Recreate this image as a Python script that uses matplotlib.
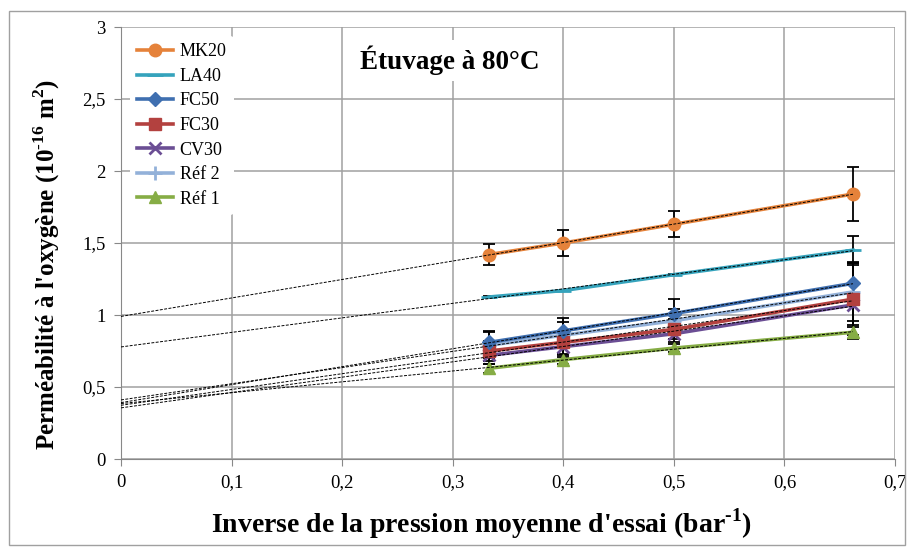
import numpy as np
import matplotlib.pyplot as plt
from matplotlib.patches import Rectangle

plt.rcParams['font.family'] = ['Liberation Serif', 'DejaVu Serif']
plt.rcParams['mathtext.fontset'] = 'custom'
plt.rcParams['mathtext.rm'] = 'Liberation Serif'
plt.rcParams['mathtext.bf'] = 'Liberation Serif:bold'

# inverse mean pressure (bar^-1)
x_vals = [0.333, 0.4, 0.5, 0.662]

series_names = ['MK20', 'LA40', 'FC50', 'FC30', 'CV30', 'Réf 2', 'Réf 1']
mk20 = [1.42, 1.50, 1.63, 1.84]
la40 = [1.125, 1.17, 1.28, 1.45]
fc50 = [0.81, 0.89, 1.01, 1.22]
fc30 = [0.75, 0.81, 0.90, 1.11]
cv30 = [0.72, 0.78, 0.87, 1.07]
ref2 = [0.79, 0.86, 0.96, 1.16]
ref1 = [0.63, 0.69, 0.77, 0.88]

mk20_err = [0.07, 0.09, 0.09, 0.185]
la40_err = [0.005, 0.005, 0.005, 0.10]
fc50_err = [0.08, 0.09, 0.10, 0.15]
fc30_err = [0.07, 0.08, 0.07, 0.25]
cv30_err = [0.06, 0.07, 0.06, 0.15]
ref2_err = [0.09, 0.09, 0.08, 0.20]
ref1_err = [0.03, 0.03, 0.03, 0.05]

values = [mk20, la40, fc50, fc30, cv30, ref2, ref1]
errors = [mk20_err, la40_err, fc50_err, fc30_err, cv30_err, ref2_err, ref1_err]
colors = ['#E5823A', '#35A3BC', '#3F6FB0', '#B3413F', '#6B4E94', '#93B1D9', '#86AD45']
markers = ['o', '_', 'D', 's', 'x', '+', '^']
msizes = [9, 12, 7, 8, 8, 10, 8]

fig = plt.figure(figsize=(9.14, 5.49), dpi=100)
ax = fig.add_axes([121 / 914, 1 - 459 / 549, (895 - 121) / 914, (459 - 27) / 549])

# draw in reverse so MK20 sits on top like the original
handles = {}
for name, y, err, c, m, ms in list(zip(series_names, values, errors, colors, markers, msizes))[::-1]:
    ax.errorbar(x_vals, y, yerr=err, fmt='none', ecolor='black', elinewidth=1.3,
                capsize=4, capthick=1.3, zorder=3)
    line, = ax.plot(x_vals, y, color=c, lw=2.6, marker=m, markersize=ms,
                    markeredgewidth=2 if m in ('x', '+', '_') else 1,
                    markeredgecolor=c, label=name, zorder=4)
    handles[name] = line

# linear trend lines extrapolated to x = 0
for y in values:
    slope, icpt = np.polyfit(x_vals, y, 1)
    xt = np.array([0, x_vals[-1]])
    ax.plot(xt, icpt + slope * xt, color='black', lw=0.7, ls=(0, (3, 1.5)), zorder=5)

ax.set_xlim(0, 0.7)
ax.set_ylim(0, 3)
ax.set_xticks(np.arange(0, 0.71, 0.1))
ax.set_yticks(np.arange(0, 3.01, 0.5))
ax.set_xticklabels(['0', '0,1', '0,2', '0,3', '0,4', '0,5', '0,6', '0,7'])
ax.set_yticklabels(['0', '0,5', '1', '1,5', '2', '2,5', '3'])
ax.tick_params(labelsize=13.5, color='#888888', length=5, pad=6)
ax.grid(True, color='#A0A0A0', lw=1.1)
ax.set_axisbelow(True)
for s in ['top', 'right']:
    ax.spines[s].set_visible(False)
for s in ['left', 'bottom']:
    ax.spines[s].set_color('#888888')

ax.set_xlabel("Inverse de la pression moyenne d'essai (bar$^{\\mathbf{\u20101}}$)",
              fontsize=20, fontweight='bold')
ax.set_ylabel("Perméabilité à l'oxygène (10$^{\\mathbf{\u201016}}$ m$^{\\mathbf{2}}$)",
              fontsize=18, fontweight='bold')
ax.xaxis.set_label_coords(0.466, -0.11)
ax.yaxis.set_label_coords(-0.076, 0.45)

ax.text(0.297, 2.77, 'Étuvage à 80°C', fontsize=19.5, fontweight='bold', ha='center',
        va='center', bbox=dict(facecolor='white', edgecolor='none', pad=4), zorder=6)

leg = ax.legend([handles[n] for n in series_names], series_names,
                loc='upper left', bbox_to_anchor=(0.0, 1.0), fontsize=13, frameon=True,
                facecolor='white', edgecolor='none', framealpha=1, handlelength=2.0,
                labelspacing=0.42, borderpad=0.4, handletextpad=0.35)
leg.set_zorder(7)

fig.patches.append(Rectangle((9 / 914, 4 / 549), 896 / 914, 534 / 549, transform=fig.transFigure,
                             fill=False, edgecolor='#A0A0A0', lw=1))

fig.savefig('out.png', dpi=100)
